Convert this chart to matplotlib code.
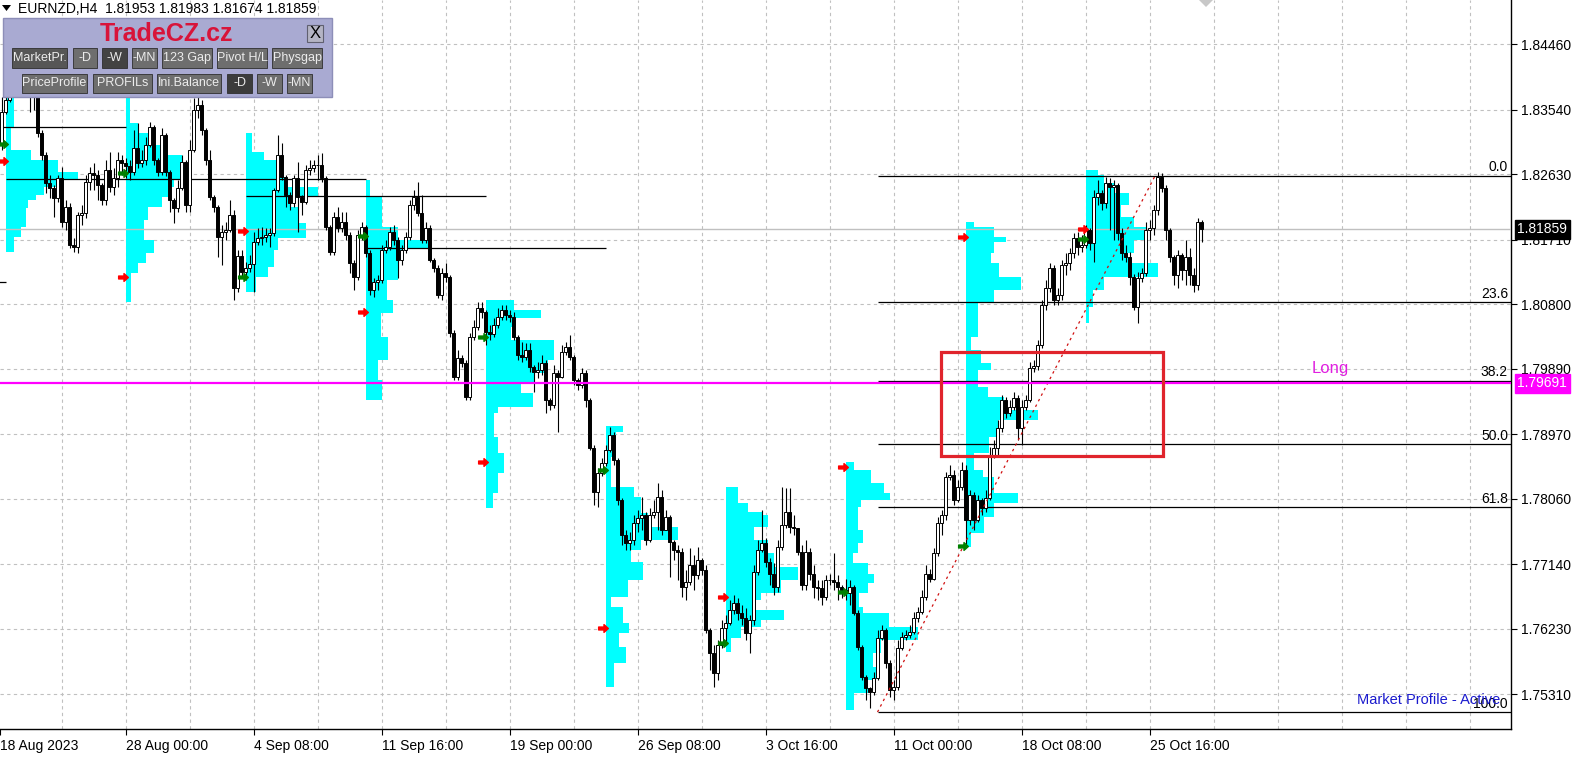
import numpy as np
import matplotlib.pyplot as plt
import matplotlib.transforms as mtrans
from matplotlib.patches import Rectangle, Polygon
from matplotlib.path import Path

plt.rcParams['font.family'] = ['Liberation Sans', 'DejaVu Sans']

W, H = 1582, 758

# EURNZD H4 candles, 18 Aug 2023 20:00 .. 27 Oct 2023 20:00 (open = previous close)
first_open = 1.8307
closes = [
    1.8351, 1.8368, 1.8384, 1.8396, 1.8401, 1.8390, 1.8384, 1.8379, 1.8375, 1.8321,
    1.8290, 1.8251, 1.8244, 1.8230, 1.8258, 1.8196, 1.8217, 1.8164, 1.8161, 1.8206,
    1.8209, 1.8252, 1.8265, 1.8262, 1.8248, 1.8227, 1.8269, 1.8245, 1.8258, 1.8283,
    1.8279, 1.8275, 1.8266, 1.8300, 1.8279, 1.8283, 1.8304, 1.8330, 1.8283, 1.8266,
    1.8318, 1.8266, 1.8227, 1.8216, 1.8244, 1.8280, 1.8220, 1.8297, 1.8354, 1.8361,
    1.8325, 1.8283, 1.8231, 1.8217, 1.8175, 1.8182, 1.8185, 1.8206, 1.8103, 1.8148,
    1.8126, 1.8131, 1.8137, 1.8168, 1.8173, 1.8175, 1.8178, 1.8180, 1.8241, 1.8290,
    1.8259, 1.8234, 1.8223, 1.8258, 1.8231, 1.8224, 1.8269, 1.8272, 1.8276, 1.8276,
    1.8258, 1.8189, 1.8154, 1.8203, 1.8187, 1.8196, 1.8178, 1.8138, 1.8119, 1.8178,
    1.8189, 1.8152, 1.8100, 1.8111, 1.8114, 1.8157, 1.8161, 1.8182, 1.8171, 1.8142,
    1.8157, 1.8175, 1.8220, 1.8231, 1.8209, 1.8171, 1.8187, 1.8142, 1.8131, 1.8093,
    1.8124, 1.8119, 1.8040, 1.7978, 1.8004, 1.7997, 1.7950, 1.8034, 1.8048, 1.8075,
    1.8069, 1.8041, 1.8038, 1.8051, 1.8062, 1.8072, 1.8065, 1.8062, 1.8034, 1.8009,
    1.8006, 1.8016, 1.7992, 1.7985, 1.7988, 1.7997, 1.7945, 1.7938, 1.7983, 1.7978,
    1.8013, 1.8020, 1.8006, 1.7973, 1.7966, 1.7983, 1.7945, 1.7878, 1.7816, 1.7843,
    1.7857, 1.7875, 1.7896, 1.7861, 1.7805, 1.7755, 1.7744, 1.7748, 1.7772, 1.7779,
    1.7783, 1.7748, 1.7783, 1.7788, 1.7809, 1.7762, 1.7781, 1.7745, 1.7734, 1.7731,
    1.7682, 1.7689, 1.7713, 1.7699, 1.7720, 1.7706, 1.7622, 1.7589, 1.7561, 1.7600,
    1.7624, 1.7631, 1.7650, 1.7660, 1.7646, 1.7638, 1.7617, 1.7636, 1.7703, 1.7734,
    1.7744, 1.7717, 1.7701, 1.7682, 1.7738, 1.7769, 1.7788, 1.7767, 1.7765, 1.7731,
    1.7685, 1.7731, 1.7701, 1.7682, 1.7681, 1.7668, 1.7692, 1.7692, 1.7689, 1.7682,
    1.7678, 1.7674, 1.7682, 1.7646, 1.7598, 1.7555, 1.7540, 1.7534, 1.7554, 1.7610,
    1.7622, 1.7575, 1.7537, 1.7541, 1.7596, 1.7612, 1.7614, 1.7619, 1.7638, 1.7647,
    1.7668, 1.7701, 1.7694, 1.7730, 1.7772, 1.7783, 1.7837, 1.7840, 1.7805, 1.7823,
    1.7847, 1.7776, 1.7812, 1.7776, 1.7805, 1.7793, 1.7807, 1.7868, 1.7878, 1.7906,
    1.7945, 1.7927, 1.7936, 1.7948, 1.7906, 1.7936, 1.7945, 1.7990, 1.7993, 1.8023,
    1.8079, 1.8103, 1.8131, 1.8086, 1.8093, 1.8135, 1.8138, 1.8152, 1.8173, 1.8161,
    1.8164, 1.8185, 1.8166, 1.8231, 1.8237, 1.8223, 1.8251, 1.8245, 1.8248, 1.8180,
    1.8152, 1.8147, 1.8119, 1.8076, 1.8117, 1.8124, 1.8185, 1.8187, 1.8213, 1.8259,
    1.8244, 1.8185, 1.8147, 1.8121, 1.8150, 1.8128, 1.8147, 1.8121, 1.8107, 1.81953,
    1.81859,
]
highs = [
    1.8372, 1.8382, 1.8396, 1.8407, 1.8413, 1.8404, 1.8396, 1.8390, 1.8387, 1.8382,
    1.8325, 1.8294, 1.8262, 1.8248, 1.8262, 1.8273, 1.8227, 1.8223, 1.8173, 1.8210,
    1.8220, 1.8262, 1.8273, 1.8279, 1.8269, 1.8251, 1.8283, 1.8294, 1.8272, 1.8294,
    1.8290, 1.8286, 1.8283, 1.8325, 1.8335, 1.8297, 1.8316, 1.8337, 1.8332, 1.8286,
    1.8328, 1.8321, 1.8269, 1.8230, 1.8255, 1.8290, 1.8283, 1.8311, 1.8370, 1.8372,
    1.8368, 1.8328, 1.8297, 1.8234, 1.8220, 1.8192, 1.8196, 1.8227, 1.8213, 1.8157,
    1.8157, 1.8140, 1.8150, 1.8182, 1.8187, 1.8189, 1.8187, 1.8187, 1.8244, 1.8318,
    1.8307, 1.8262, 1.8238, 1.8262, 1.8280, 1.8234, 1.8276, 1.8283, 1.8283, 1.8290,
    1.8293, 1.8261, 1.8192, 1.8210, 1.8217, 1.8210, 1.8210, 1.8182, 1.8142, 1.8185,
    1.8196, 1.8192, 1.8157, 1.8117, 1.8121, 1.8164, 1.8171, 1.8189, 1.8192, 1.8175,
    1.8164, 1.8182, 1.8227, 1.8241, 1.8252, 1.8234, 1.8196, 1.8192, 1.8145, 1.8135,
    1.8131, 1.8138, 1.8121, 1.8044, 1.8016, 1.8009, 1.8002, 1.8040, 1.8058, 1.8083,
    1.8083, 1.8072, 1.8051, 1.8061, 1.8075, 1.8079, 1.8079, 1.8072, 1.8069, 1.8037,
    1.8027, 1.8026, 1.8026, 1.7995, 1.7999, 1.8009, 1.8002, 1.7948, 1.7995, 1.7988,
    1.8023, 1.8027, 1.8037, 1.8009, 1.7976, 1.7990, 1.7988, 1.7948, 1.7882, 1.7850,
    1.7864, 1.7882, 1.7907, 1.7900, 1.7864, 1.7807, 1.7762, 1.7759, 1.7783, 1.7790,
    1.7809, 1.7788, 1.7793, 1.7805, 1.7828, 1.7819, 1.7790, 1.7783, 1.7748, 1.7741,
    1.7737, 1.7706, 1.7737, 1.7727, 1.7738, 1.7723, 1.7713, 1.7624, 1.7600, 1.7608,
    1.7636, 1.7643, 1.7664, 1.7671, 1.7667, 1.7657, 1.7653, 1.7643, 1.7713, 1.7748,
    1.7790, 1.7751, 1.7723, 1.7716, 1.7748, 1.7823, 1.7821, 1.7821, 1.7783, 1.7765,
    1.7741, 1.7748, 1.7737, 1.7713, 1.7692, 1.7692, 1.7699, 1.7701, 1.7730, 1.7699,
    1.7685, 1.7694, 1.7692, 1.7685, 1.7650, 1.7600, 1.7558, 1.7542, 1.7562, 1.7622,
    1.7629, 1.7624, 1.7579, 1.7551, 1.7608, 1.7619, 1.7622, 1.7629, 1.7647, 1.7654,
    1.7678, 1.7713, 1.7708, 1.7737, 1.7781, 1.7790, 1.7844, 1.7854, 1.7847, 1.7833,
    1.7858, 1.7854, 1.7819, 1.7816, 1.7812, 1.7807, 1.7819, 1.7879, 1.7889, 1.7917,
    1.7952, 1.7950, 1.7945, 1.7957, 1.7952, 1.7945, 1.7952, 1.7999, 1.8002, 1.8030,
    1.8086, 1.8114, 1.8138, 1.8135, 1.8103, 1.8142, 1.8152, 1.8159, 1.8180, 1.8182,
    1.8178, 1.8192, 1.8187, 1.8241, 1.8255, 1.8241, 1.8259, 1.8258, 1.8255, 1.8251,
    1.8187, 1.8164, 1.8154, 1.8122, 1.8126, 1.8131, 1.8196, 1.8199, 1.8220, 1.8266,
    1.8265, 1.8248, 1.8188, 1.8150, 1.8157, 1.8152, 1.8171, 1.8159, 1.8131, 1.8202,
    1.81983,
]
lows = [
    1.8297, 1.8348, 1.8365, 1.8379, 1.8387, 1.8382, 1.8373, 1.8351, 1.8354, 1.8316,
    1.8283, 1.8237, 1.8230, 1.8203, 1.8224, 1.8189, 1.8185, 1.8159, 1.8154, 1.8152,
    1.8192, 1.8202, 1.8241, 1.8241, 1.8227, 1.8220, 1.8220, 1.8238, 1.8234, 1.8245,
    1.8262, 1.8258, 1.8255, 1.8262, 1.8272, 1.8273, 1.8276, 1.8302, 1.8276, 1.8261,
    1.8262, 1.8261, 1.8210, 1.8194, 1.8210, 1.8241, 1.8210, 1.8210, 1.8294, 1.8342,
    1.8318, 1.8276, 1.8227, 1.8210, 1.8147, 1.8135, 1.8171, 1.8182, 1.8086, 1.8097,
    1.8117, 1.8114, 1.8126, 1.8097, 1.8164, 1.8164, 1.8168, 1.8161, 1.8176, 1.8238,
    1.8255, 1.8217, 1.8213, 1.8217, 1.8182, 1.8206, 1.8221, 1.8262, 1.8266, 1.8255,
    1.8252, 1.8185, 1.8150, 1.8150, 1.8182, 1.8182, 1.8171, 1.8124, 1.8100, 1.8114,
    1.8171, 1.8147, 1.8093, 1.8090, 1.8100, 1.8110, 1.8152, 1.8157, 1.8164, 1.8117,
    1.8135, 1.8152, 1.8171, 1.8213, 1.8204, 1.8166, 1.8166, 1.8140, 1.8126, 1.8089,
    1.8086, 1.8111, 1.8034, 1.7973, 1.7973, 1.7992, 1.7945, 1.7945, 1.8030, 1.8044,
    1.8061, 1.8023, 1.8030, 1.8034, 1.8047, 1.8058, 1.8058, 1.8055, 1.8030, 1.8002,
    1.7999, 1.8002, 1.7985, 1.7957, 1.7976, 1.7981, 1.7927, 1.7931, 1.7934, 1.7900,
    1.7976, 1.8009, 1.8002, 1.7966, 1.7959, 1.7962, 1.7936, 1.7875, 1.7798, 1.7795,
    1.7838, 1.7852, 1.7872, 1.7854, 1.7798, 1.7741, 1.7734, 1.7734, 1.7741, 1.7759,
    1.7762, 1.7741, 1.7745, 1.7779, 1.7762, 1.7755, 1.7762, 1.7696, 1.7720, 1.7692,
    1.7668, 1.7664, 1.7685, 1.7678, 1.7694, 1.7699, 1.7617, 1.7565, 1.7541, 1.7551,
    1.7596, 1.7600, 1.7629, 1.7644, 1.7636, 1.7629, 1.7608, 1.7589, 1.7629, 1.7699,
    1.7731, 1.7710, 1.7685, 1.7671, 1.7675, 1.7734, 1.7765, 1.7758, 1.7755, 1.7727,
    1.7678, 1.7678, 1.7692, 1.7667, 1.7664, 1.7657, 1.7664, 1.7685, 1.7678, 1.7664,
    1.7667, 1.7664, 1.7657, 1.7643, 1.7593, 1.7551, 1.7523, 1.7512, 1.7530, 1.7551,
    1.7608, 1.7568, 1.7527, 1.7523, 1.7537, 1.7593, 1.7608, 1.7610, 1.7616, 1.7633,
    1.7644, 1.7664, 1.7689, 1.7692, 1.7726, 1.7755, 1.7776, 1.7833, 1.7798, 1.7802,
    1.7819, 1.7741, 1.7769, 1.7762, 1.7774, 1.7783, 1.7788, 1.7805, 1.7864, 1.7865,
    1.7900, 1.7920, 1.7923, 1.7931, 1.7889, 1.7882, 1.7931, 1.7943, 1.7985, 1.7988,
    1.8019, 1.8072, 1.8097, 1.8079, 1.8079, 1.8086, 1.8121, 1.8128, 1.8145, 1.8150,
    1.8154, 1.8159, 1.8157, 1.8140, 1.8220, 1.8213, 1.8216, 1.8185, 1.8171, 1.8171,
    1.8142, 1.8140, 1.8107, 1.8072, 1.8054, 1.8111, 1.8120, 1.8171, 1.8178, 1.8206,
    1.8238, 1.8171, 1.8140, 1.8107, 1.8103, 1.8114, 1.8107, 1.8107, 1.8097, 1.8100,
    1.81674,
]

# weekly market profiles: first bar of each week, level edges (top->bottom), widths in bars
week_starts = [1, 31, 61, 91, 121, 151, 181, 211, 241, 271]
prof_edges = [
    [1.8396, 1.8328, 1.8297, 1.8283, 1.8266, 1.8255, 1.8245, 1.8234, 1.8227, 1.8216, 1.8189, 1.8175, 1.8154],
    [1.8382, 1.8335, 1.8321, 1.8304, 1.8290, 1.8273, 1.8255, 1.8245, 1.8231, 1.8217, 1.8199, 1.8171, 1.8152,
     1.8138, 1.8124, 1.8083],
    [1.8321, 1.8294, 1.8283, 1.8259, 1.8245, 1.8231, 1.8217, 1.8194, 1.8173, 1.8157, 1.8132, 1.8119, 1.8097],
    [1.8255, 1.8231, 1.8189, 1.8171, 1.8159, 1.8142, 1.8114, 1.8086, 1.8068, 1.8034, 1.8002, 1.7973, 1.7945],
    [1.8086, 1.8072, 1.8061, 1.8048, 1.8030, 1.8002, 1.7983, 1.7969, 1.7955, 1.7936, 1.7927, 1.7893, 1.7871,
     1.7843, 1.7814, 1.7793],
    [1.7909, 1.7900, 1.7865, 1.7823, 1.7809, 1.7786, 1.7767, 1.7748, 1.7734, 1.7717, 1.7692, 1.7668, 1.7654,
     1.7631, 1.7617, 1.7598, 1.7575, 1.7541],
    [1.7823, 1.7800, 1.7788, 1.7783, 1.7767, 1.7748, 1.7730, 1.7710, 1.7692, 1.7674, 1.7664, 1.7650, 1.7636,
     1.7626, 1.7610, 1.7591],
    [1.7858, 1.7847, 1.7828, 1.7814, 1.7805, 1.7795, 1.7762, 1.7744, 1.7730, 1.7716, 1.7701, 1.7688, 1.7674,
     1.7654, 1.7646, 1.7626, 1.7608, 1.7589, 1.7570, 1.7551, 1.7533, 1.7509],
    [1.8196, 1.8189, 1.8175, 1.8168, 1.8152, 1.8138, 1.8119, 1.8100, 1.8082, 1.8034, 1.8016, 1.7997, 1.7988,
     1.7964, 1.7950, 1.7931, 1.7917, 1.7893, 1.7871, 1.7847, 1.7837, 1.7814, 1.7800, 1.7781, 1.7758, 1.7738],
    [1.8269, 1.8262, 1.8251, 1.8237, 1.8220, 1.8203, 1.8189, 1.8171, 1.8152, 1.8138, 1.8119, 1.8100, 1.8076, 1.8054],
]
prof_widths = [
    [2, 1.25, 6.25, 13, 18, 14.5, 9.5, 7.5, 5.5, 5, 3.75, 2],
    [1, 3, 5.5, 10.5, 14, 16, 12, 10.5, 9, 5.5, 4.5, 7, 5, 3, 1.25],
    [1.5, 4.5, 7.5, 10, 18, 11, 13, 15, 8, 7, 5.5, 2.5],
    [1, 4, 8, 16, 9, 8, 5.25, 6.75, 3.75, 5.5, 3, 4],
    [7, 13.75, 7, 6.25, 17, 15.5, 12, 8.75, 11.75, 3, 2, 3, 4.5, 3, 1.75],
    [4.25, 2.5, 1.25, 7, 8.75, 10.5, 18, 8.75, 6.25, 9.25, 5.5, 1.25, 4.25, 5.75, 3.25, 5, 2],
    [3, 5.5, 9.25, 10.5, 7, 10.5, 12, 18, 13.75, 8.75, 7, 14.5, 8.75, 3.75, 1.25],
    [2, 6.25, 9.5, 11, 3.75, 3, 4.25, 3, 1.75, 5.5, 7, 5.5, 3.25, 4.25, 10.75, 18, 8.75, 6.75, 7.5, 5.5, 2],
    [2, 7, 10, 7, 6.25, 8.25, 13.75, 7, 3, 1.25, 3.75, 6.25, 3, 5.5, 9.5, 18, 8, 5.75, 2, 4.25, 7, 13, 7, 4.5, 1.25],
    [3, 4.5, 7, 10.75, 8.75, 12, 15, 12, 10.5, 18, 4.5, 1.75, 0.75],
]
red_marks = [1.8282, 1.8119, 1.8183, 1.8069, 1.7858, 1.7624, 1.7668, 1.7851, 1.8175, 1.8186]
green_marks = [1.8306, 1.8265, 1.8119, 1.8176, 1.8034, 1.7847, 1.7603, 1.7675, 1.7740, 1.8172]

# naked POC lines: price, from bar, to bar
poc_lines = [(1.8329, -1, 31), (1.8256, 1, 91), (1.8232, 61, 121), (1.8159, 91, 151), (1.8111, -1, 1)]

y_ticks = [1.84460, 1.83540, 1.82630, 1.81710, 1.80800, 1.79890, 1.78970, 1.78060, 1.77140, 1.76230, 1.75310]
x_label_bars = [-0.375, 31, 63, 95, 127, 159, 191, 223, 255, 287]
x_labels = ['18 Aug 2023', '28 Aug 00:00', '4 Sep 08:00', '11 Sep 16:00', '19 Sep 00:00',
            '26 Sep 08:00', '3 Oct 16:00', '11 Oct 00:00', '18 Oct 08:00', '25 Oct 16:00']

fib_low, fib_high = 1.7506, 1.8261
fib_t0, fib_t1 = 219, 288.4
fib_levels = [0.0, 23.6, 38.2, 50.0, 61.8, 100.0]
long_price = 1.79691
bid = 1.81859
box_t0, box_t1 = 234.8, 290.3
box_p0, box_p1 = 1.7866, 1.8013

# ---------------------------------------------------------------
fig = plt.figure(figsize=(W / 100, H / 100), dpi=100)
ax = fig.add_axes([0, 29 / H, 1511 / W, 729 / H])
ax.set_xlim(-0.375, -0.375 + 1511 / 4)
ax.set_ylim(1.74822, 1.85084)

# grid
grid_kw = dict(color='#c0c0c0', lw=0.8, ls=(0, (3, 3)), zorder=1)
for p in y_ticks:
    ax.axhline(p, **grid_kw)
for b in range(15, 378, 16):
    ax.axvline(b, **grid_kw)

# market profiles
for start, edges, widths in zip(week_starts, prof_edges, prof_widths):
    e = np.array(edges)
    ax.barh(e[1:], widths, height=e[:-1] - e[1:], left=start, align='edge',
            color='#00ffff', lw=0, zorder=2)

for price, b0, b1 in poc_lines:
    ax.hlines(price, b0, b1, color='black', lw=0.9, zorder=3)

ax.axhline(bid, color='#c0c0c0', lw=1, zorder=3)

# fibonacci
fib_prices = [fib_high - (fib_high - fib_low) * lv / 100 for lv in fib_levels]
ax.hlines(fib_prices, fib_t0, 400, color='black', lw=0.9, zorder=4)
trans = mtrans.blended_transform_factory(ax.transAxes, ax.transData)
for lv, p in zip(fib_levels, fib_prices):
    ax.text(0.998, p + 0.0002, f'{lv:.1f}', transform=trans, ha='right', va='bottom',
            fontsize=10, zorder=9)

# candles
c = np.array(closes)
h = np.array(highs)
l = np.array(lows)
o = np.r_[first_open, c[:-1]]
idx = np.arange(len(c))
up = c >= o
ax.vlines(idx, l, h, color='black', lw=0.8, zorder=5)
ax.bar(idx, np.maximum(np.abs(c - o), 0.00005), bottom=np.minimum(o, c), width=0.6,
       color=np.where(up, 'white', 'black'), edgecolor='black', lw=0.7, zorder=6)

# weekly arrows
arrow = Path([(-1, -0.3), (0.1, -0.3), (0.1, -0.8), (1, 0), (0.1, 0.8), (0.1, 0.3), (-1, 0.3), (-1, -0.3)],
             [Path.MOVETO] + [Path.LINETO] * 6 + [Path.CLOSEPOLY])
wx = np.array(week_starts) - 0.6
ax.plot(wx, red_marks, ls='none', marker=arrow, ms=7, color='#ff0000', zorder=9)
ax.plot(wx, green_marks, ls='none', marker=arrow, ms=7, color='#008000', zorder=9)

# trend line, long level, zone box
ax.plot([fib_t0, fib_t1], [fib_low, fib_high], color='#d01010', lw=0.9, ls=(0, (2, 3)), zorder=7)
ax.axhline(long_price, color='#ff00ff', lw=1.6, zorder=7)
ax.annotate('Long', (327.6, long_price), xytext=(0, 5), textcoords='offset points',
            color='#e020e0', fontsize=12, ha='left', va='bottom', zorder=9)
ax.add_patch(Rectangle((box_t0, box_p0), box_t1 - box_t0, box_p1 - box_p0, fill=False,
                       edgecolor='#e0242c', lw=2.3, zorder=8))

ax.text(1500 / 1511, 29 / 729, 'Market Profile - Active', transform=ax.transAxes,
        ha='right', va='center', color='#1a1acd', fontsize=10.5, zorder=9)

# axes styling
for s in ('left', 'top'):
    ax.spines[s].set_visible(False)
for s in ('right', 'bottom'):
    ax.spines[s].set_linewidth(1)
ax.yaxis.tick_right()
ax.set_yticks(y_ticks)
ax.set_yticklabels([f'{v:.5f}' for v in y_ticks])
ax.tick_params(axis='y', length=4, width=0.8, pad=3, labelsize=10)
ax.set_xticks(x_label_bars)
ax.set_xticklabels(x_labels)
for lbl in ax.get_xticklabels():
    lbl.set_ha('left')
ax.tick_params(axis='x', length=4, width=0.8, pad=3, labelsize=10)

# price boxes on the scale
ax.text(1.0042, bid, f'{bid:.5f}', transform=trans, ha='left', va='center', color='white',
        fontsize=10, bbox=dict(boxstyle='square,pad=0.18', fc='black', ec='black'),
        clip_on=False, zorder=10)
ax.text(1.0042, long_price, f'{long_price:.5f}', transform=trans, ha='left', va='center',
        color='white', fontsize=10, bbox=dict(boxstyle='square,pad=0.18', fc='#ff00ff', ec='#ff00ff'),
        clip_on=False, zorder=10)


# ---- overlays in pixel coordinates ----
def fx(x):
    return x / W


def fy(y):
    return 1 - y / H


def px_rect(x0, y0, x1, y1, **kw):
    fig.add_artist(Rectangle((fx(x0), fy(y1)), (x1 - x0) / W, (y1 - y0) / H,
                             transform=fig.transFigure, **kw))


fig.add_artist(Polygon([(fx(2), fy(5)), (fx(11), fy(5)), (fx(6.5), fy(11))], closed=True,
                       transform=fig.transFigure, fc='black', ec='none'))
fig.text(fx(18), fy(9), 'EURNZD,H4  1.81953 1.81983 1.81674 1.81859', fontsize=10, va='center')
fig.add_artist(Polygon([(fx(1199), fy(0)), (fx(1213), fy(0)), (fx(1206), fy(7))], closed=True,
                       transform=fig.transFigure, fc='#c8c8c8', ec='none'))

px_rect(3, 18, 332, 97, fc='#a9aad2', ec='#8d8eb8', lw=1, zorder=20)
fig.text(fx(166), fy(34), 'TradeCZ.cz', color='#d8143a', fontsize=18, fontweight='bold',
         ha='center', va='center', zorder=21)
px_rect(307, 25, 323, 42, fc='#b4b4c4', ec='#606070', lw=0.8, zorder=21)
fig.text(fx(315), fy(33.5), 'X', fontsize=12, ha='center', va='center', zorder=22)

buttons = [
    ('MarketPr.', 12, 67, 1, '#565656'), ('-D', 73, 97, 1, '#6e6e6e'), ('-W', 102, 127, 1, '#434343'),
    ('-MN', 132, 157, 1, '#6e6e6e'), ('123 Gap', 162, 212, 1, '#6e6e6e'), ('Pivot H/L', 217, 267, 1, '#6e6e6e'),
    ('Physgap', 272, 322, 1, '#6e6e6e'),
    ('PriceProfile', 22, 87, 2, '#6e6e6e'), ('PROFILs', 93, 152, 2, '#6e6e6e'),
    ('Ini.Balance', 157, 221, 2, '#6e6e6e'), ('-D', 227, 252, 2, '#3c3c3c'),
    ('-W', 257, 282, 2, '#6e6e6e'), ('-MN', 287, 312, 2, '#6e6e6e'),
]
for text, x0, x1, row, col in buttons:
    y0, y1 = (48, 68) if row == 1 else (74, 93)
    px_rect(x0, y0, x1, y1, fc=col, ec='#2e2e2e', lw=0.6, zorder=21)
    fig.text(fx((x0 + x1) / 2), fy((y0 + y1) / 2), text, color='#ececec', fontsize=9,
             ha='center', va='center', zorder=22)

fig.savefig('out.png', dpi=100)
